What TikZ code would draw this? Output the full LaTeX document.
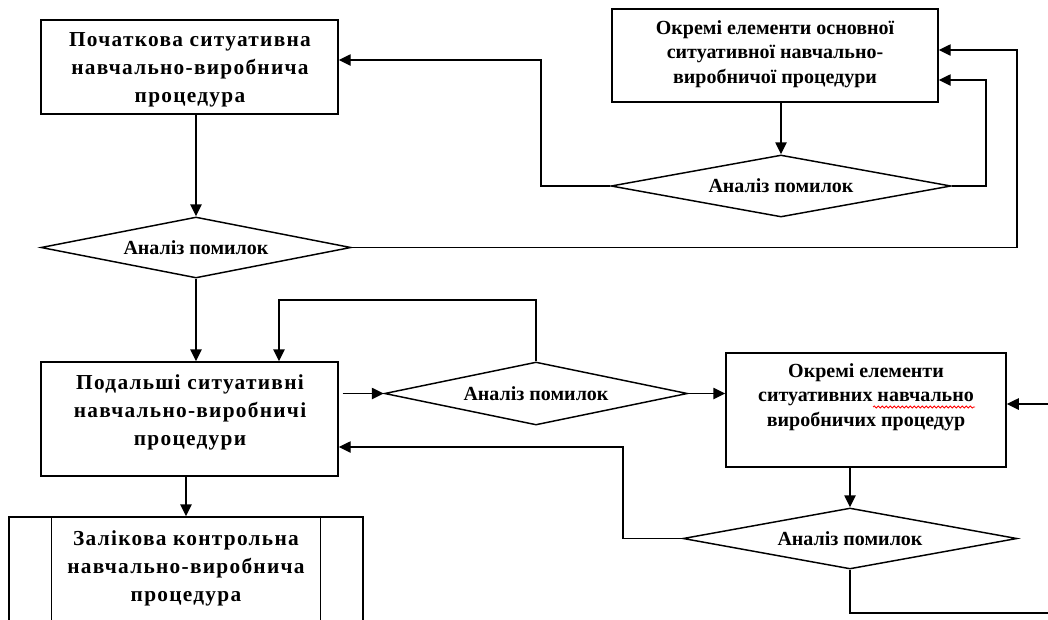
\documentclass[tikz,border=0pt]{standalone}
\usepackage{fontspec}
\setmainfont{Liberation Serif}
\newfontfamily\widefont[LetterSpace=6]{Liberation Serif}
\usetikzlibrary{shapes.geometric,arrows.meta,decorations.pathmorphing}
\begin{document}
\begin{tikzpicture}[x=0.75pt,y=-0.75pt,
  line width=1.1pt,
  box/.style={draw, rectangle, inner sep=0pt},
  dia/.style={draw, diamond, aspect=5, inner sep=1pt,
    font=\fontsize{15}{18}\selectfont\bfseries},
  widetxt/.style={align=center, inner sep=0pt,
    font=\widefont\fontsize{16}{21}\selectfont\bfseries},
  tighttxt/.style={align=center, inner sep=0pt,
    font=\fontsize{15}{18.5}\selectfont\bfseries},
  flow/.style={-{Triangle[length=9pt,width=8.5pt]}}
]
\useasboundingbox (0,0) rectangle (1048,619);
\clip (0,0) rectangle (1048,619);

% process boxes
\node[box, minimum width={297*0.75pt}, minimum height={94*0.75pt}] (b1) at (189.5,67) {};
\node[box, minimum width={326*0.75pt}, minimum height={93*0.75pt}] (b2) at (775,55.5) {};
\node[box, minimum width={297*0.75pt}, minimum height={114*0.75pt}] (b3) at (189.5,419) {};
\node[box, minimum width={280*0.75pt}, minimum height={114*0.75pt}] (b4) at (866,410) {};
\node[box, minimum width={354*0.75pt}, minimum height={143*0.75pt}] (b5) at (186,588.5) {};
\draw ([xshift={43*0.75pt}]b5.north west) -- ([xshift={43*0.75pt}]b5.south west);
\draw ([xshift={-43*0.75pt}]b5.north east) -- ([xshift={-43*0.75pt}]b5.south east);

% box texts
\node[widetxt] (t1) at (190,70) {Початкова ситуативна\\навчально-виробнича\\процедура};
\node[tighttxt] (t2) at (775,54) {Окремі елементи основної\\ситуативної навчально-\\виробничої процедури};
\node[widetxt] (t3) at (190,412) {Подальші ситуативні\\навчально-виробничі\\процедури};
\node[tighttxt] (t4) at (866,397) {Окремі елементи\\ситуативних навчально\\виробничих процедур};
\node[widetxt] (t5) at (186,568) {Залікова контрольна\\навчально-виробнича\\процедура};
\draw[red, line width=0.6pt, decorate,
  decoration={snake, amplitude=0.8pt, segment length=3pt}] (873,407) -- (975,407);

% decision diamonds
\node[dia, minimum width={310*0.75pt}, minimum height={61*0.75pt}] (d1) at (196,247.5) {Аналіз помилок};
\node[dia, minimum width={340*0.75pt}, minimum height={62*0.75pt}] (d2) at (781,186) {Аналіз помилок};
\node[dia, minimum width={303*0.75pt}, minimum height={63*0.75pt}] (d3) at (536,393.5) {Аналіз помилок};
\node[dia, minimum width={334*0.75pt}, minimum height={61*0.75pt}] (d4) at (850,538.5) {Аналіз помилок};

% routing points
\coordinate (r1) at (1017,50);
\coordinate (r2) at (986,80);
\coordinate (r3) at (541,60);
\coordinate (r4) at (279,300);
\coordinate (r5) at (623,447);
\coordinate (in4) at (1060,404);
\coordinate (out4) at (1060,613);

% connectors
\draw[flow] (b1.south -| d1.north) -- (d1.north);
\draw[flow] (d1.east) -| (r1) -- (r1 -| b2.east);
\draw[flow] (b2.south -| d2.north) -- (d2.north);
\draw[flow] (d2.east) -| (r2) -- (r2 -| b2.east);
\draw[flow] (d2.west) -| (r3) -- (r3 -| b1.east);
\draw[flow] (d1.south) -- (d1.south |- b3.north);
\draw[flow] (d3.north) |- (r4) -- (r4 |- b3.north);
\draw[flow] ([xshift=3pt]b3.east |- d3.west) -- (d3.west);
\draw[flow] (d3.east) -- (d3.east -| b4.west);
\draw[flow] (in4) -- (in4 -| b4.east);
\draw[flow] (b4.south -| d4.north) -- (d4.north);
\draw[flow] (d4.west) -| (r5) -- (r5 -| b3.east);
\draw (d4.south) |- (out4);
\draw[flow] (b3.south -| b5.north) -- (b5.north);
\end{tikzpicture}
\end{document}
